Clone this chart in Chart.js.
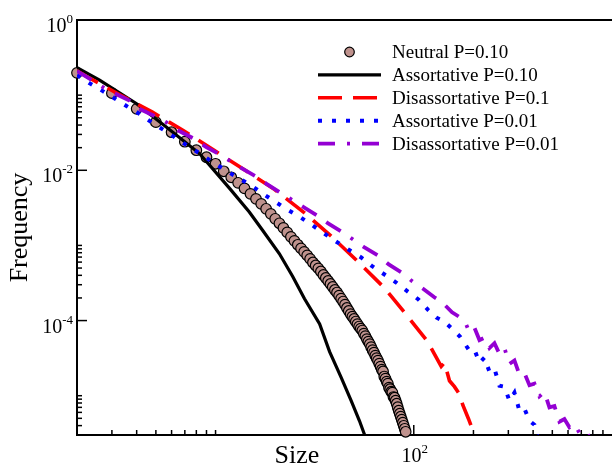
<!DOCTYPE html>
<html><head><meta charset="utf-8">
<script src="https://cdn.jsdelivr.net/npm/chart.js@4.4.1/dist/chart.umd.min.js"></script>
<style>html,body{margin:0;padding:0;background:#fff;overflow:hidden}</style>
</head><body>
<canvas id="c" width="612" height="466"></canvas>
<script>
// ---------- data ----------
const seriesLabels = ['Neutral P=0.10','Assortative P=0.10','Disassortative P=0.1','Assortative P=0.01','Disassortative P=0.01'];

const neutralX = [2,3,4,5,6,7,8,9,10,11,12,13,14,15,16,17,18,19,20,21,22,23,24,25,26,27,28,29,30,31,32,33,34,35,36,37,38,39,40,41,42,43,44,45,46,47,48,49,50,51,52,53,54,55,56,57,58,59,60,61,62,63,64,65,66,67,68,69,70,71,72,73,74,75,76,77,78,79,80,81,82,83,84,85,86,87,88,89,90,91];
const neutralY = [0.198,0.1063,0.0657,0.0437,0.0321,0.0240,0.0185,0.0149,0.0122,0.00970,
 0.00807,0.00681,0.00575,0.00486,0.00417,0.00357,0.00307,0.00263,0.00226,0.00197,
 0.00171,0.00149,0.00130,0.00115,0.00102,9.12e-4,8.19e-4,7.36e-4,6.61e-4,5.93e-4,
 5.41e-4,4.94e-4,4.50e-4,4.04e-4,3.69e-4,3.36e-4,3.07e-4,2.80e-4,2.55e-4,2.36e-4,
 2.15e-4,1.96e-4,1.79e-4,1.63e-4,1.47e-4,1.34e-4,1.22e-4,1.13e-4,1.05e-4,9.70e-5,
 8.98e-5,8.32e-5,7.82e-5,7.36e-5,6.71e-5,6.21e-5,5.67e-5,5.25e-5,4.86e-5,4.43e-5,
 4.04e-5,3.74e-5,3.41e-5,3.16e-5,2.93e-5,2.67e-5,2.44e-5,2.22e-5,2.10e-5,1.80e-5,
 1.69e-5,1.54e-5,1.45e-5,1.28e-5,1.22e-5,1.13e-5,1.10e-5,9.60e-6,9.40e-6,8.58e-6,
 7.82e-6,7.03e-6,6.31e-6,5.75e-6,5.25e-6,4.79e-6,4.37e-6,3.98e-6,3.63e-6,3.31e-6];

const assort010X = [2,2.6,3.98,5.64,8.3,11.8,14.8,17.3,21.0,24.5,28.1,33.5,37.6,43.0,48.3,53.2,56.4];
const assort010Y = [0.233,0.158,0.0775,0.0378,0.0167,0.0057,0.00278,0.00158,7.74e-4,3.86e-4,1.95e-4,9.0e-5,3.86e-5,1.75e-5,8.6e-6,4.64e-6,3.05e-6];

const disass010X = [2,2.26,3.31,4.78,6.84,9.88,14.3,19.6,28.1,38.3,52.6,71.2,91.6,116.6,137.5,142.8,151.4,160.4,170,176.7,188.7,202.4];
const disass010Y = [0.211,0.1743,0.1,0.0599,0.0341,0.0183,0.00976,0.0057,0.00271,0.00133,5.99e-4,2.71e-4,1.20e-4,5.41e-5,2.45e-5,2.75e-5,1.58e-5,1.32e-5,1.05e-5,7.54e-6,4.94e-6,3.05e-6];

const assort001X = [2,2.32,2.70,3.10,3.61,4.14,4.74,5.53,6.36,7.31,8.47,9.77,11.27,12.96,15.1,17.3,20.1,23.1,26.7,30.8,35.5,40.7,47.0,54.3,61.9,71.2,81.5,93.3,105.6,117.7,129.7,142.8,157.3,171,190.9,202.4,214.5,227.3,240.8,255.3,270.5,286.7,303.8,322.0,341.2,361.6,383.3,406.2,420.5];
const assort001Y = [0.1848,0.1432,0.1131,0.0904,0.0698,0.0561,0.0437,0.0338,0.0265,0.0207,0.01634,0.01259,0.0100,0.00794,0.00631,0.00489,0.00378,0.00299,0.00238,0.00185,0.00143,0.00112,8.76e-4,6.92e-4,5.25e-4,4.10e-4,3.21e-4,2.43e-4,1.91e-4,1.40e-4,1.10e-4,9.70e-5,7.59e-5,6.12e-5,3.98e-5,4.10e-5,2.75e-5,3.21e-5,2.09e-5,2.29e-5,1.36e-5,1.32e-5,8.58e-6,1.10e-5,6.31e-6,6.71e-6,4.64e-6,4.10e-6,2.84e-6];

const disass001X = [2,2.45,2.70,2.98,3.68,4.09,5.22,5.75,6.45,7.84,8.98,10.9,11.9,13.2,15.9,18.0,21.4,24.2,27.8,32.5,36.8,43.7,49.6,56.4,67.1,74.8,88.0,98.5,111,127,139,156,167,
 180.2,190.9,202.4,214.5,227.3,240.8,255.3,270.5,286.7,303.8,322.0,341.2,361.6,383.3,406.2,430.4,456.1,483.4,512.3,542.9,575.4,609.8,646.2,684.8,725.7,769.1];
const disass001Y = [0.209,0.1504,0.1278,0.1107,0.0845,0.0665,0.0489,0.0423,0.0341,0.0261,0.0203,0.01537,0.01318,0.01107,0.00832,0.00665,0.00498,0.00407,0.00324,0.00251,0.00198,0.00150,0.00119,9.40e-4,7.13e-4,5.58e-4,4.27e-4,3.31e-4,2.67e-4,2.04e-4,1.75e-4,1.29e-4,1.15e-4,
 1.0e-4,7.0e-5,8.0e-5,5.5e-5,5.9e-5,4.3e-5,5.0e-5,3.6e-5,4.3e-5,2.65e-5,2.95e-5,1.9e-5,2.0e-5,1.38e-5,1.45e-5,9.8e-6,1.12e-5,7.0e-6,7.3e-6,4.5e-6,4.9e-6,3.8e-6,4.2e-6,3.2e-6,3.5e-6,2.84e-6];

const xMajorTicks = [100];
const xTickBase = ['10'];
const xTickExp = ['2'];
const xMinorTicks = [3,4,5,6,7,8,9,10,200,300,400,500,600,700,800,900];
const yMajorTicks = [1,1e-2,1e-4];
const yTickBase = ['10','10','10'];
const yTickExp = ['0','-2','-4'];
const yMinorTicks = [0.1,0.09,0.08,0.07,0.06,0.05,0.04,0.03,0.02,
  1e-3,9e-4,8e-4,7e-4,6e-4,5e-4,4e-4,3e-4,2e-4,
  1e-5,9e-6,8e-6,7e-6,6e-6,5e-6,4e-6];
const xTitle = 'Size';
const yTitle = 'Frequency';

// ---------- rendering ----------
const FONT = "'Liberation Serif','Times New Roman',serif";
Chart.defaults.font.family = FONT;
Chart.defaults.color = '#000';

const pts = (xs, ys) => xs.map((v, i) => ({x: v, y: ys[i]}));

const LEG = {x0: 318, x1: 381, tx: 392, top: 52, step: 22.9};

function powerLabel(ctx, base, exp, x, baseY, align) {
  ctx.font = '20px ' + FONT;
  const wb = ctx.measureText(base).width;
  ctx.font = '13px ' + FONT;
  const we = ctx.measureText(exp).width;
  const total = wb + we;
  const left = align === 'right' ? x - total : x - total / 2;
  ctx.textAlign = 'left'; ctx.textBaseline = 'alphabetic'; ctx.fillStyle = '#000';
  ctx.font = '20px ' + FONT;
  ctx.fillText(base, left, baseY);
  ctx.font = '13px ' + FONT;
  ctx.fillText(exp, left + wb, baseY - 9);
}

const decor = {
  id: 'decor',
  beforeDatasetsDraw(chart) {
    const {ctx, chartArea: a, scales: {x, y}} = chart;
    ctx.save();
    ctx.strokeStyle = '#000';
    ctx.lineWidth = 2;
    ctx.beginPath(); ctx.moveTo(a.left - 1, a.top); ctx.lineTo(a.right, a.top); ctx.stroke();
    ctx.lineWidth = 1.5;
    const seg = (x1, y1, x2, y2) => { ctx.beginPath(); ctx.moveTo(x1, y1); ctx.lineTo(x2, y2); ctx.stroke(); };
    xMajorTicks.forEach(v => { const p = x.getPixelForValue(v); seg(p, a.bottom, p, a.bottom - 10); });
    xMinorTicks.forEach(v => { const p = x.getPixelForValue(v); seg(p, a.bottom, p, a.bottom - 5); });
    yMajorTicks.forEach(v => { const p = y.getPixelForValue(v); seg(a.left, p, a.left + 10, p); });
    yMinorTicks.forEach(v => { const p = y.getPixelForValue(v); seg(a.left, p, a.left + 5, p); });
    xMajorTicks.forEach((v, i) => powerLabel(ctx, xTickBase[i], xTickExp[i], x.getPixelForValue(v) + 1, a.bottom + 27, 'center'));
    yMajorTicks.forEach((v, i) => powerLabel(ctx, yTickBase[i], yTickExp[i], a.left - 4, y.getPixelForValue(v) + 12, 'right'));
    ctx.restore();
  },
  afterDatasetsDraw(chart) {
    const ctx = chart.ctx;
    ctx.save();
    chart.data.datasets.forEach((ds, i) => {
      const yy = LEG.top + i * LEG.step;
      if (ds.showLine === false) {
        ctx.beginPath();
        ctx.arc((LEG.x0 + LEG.x1) / 2, yy, 4.8, 0, Math.PI * 2);
        ctx.fillStyle = ds.pointBackgroundColor; ctx.fill();
        ctx.lineWidth = ds.pointBorderWidth; ctx.strokeStyle = ds.pointBorderColor; ctx.stroke();
      } else {
        ctx.beginPath();
        ctx.setLineDash(ds.borderDash || []);
        ctx.lineWidth = ds.borderWidth; ctx.strokeStyle = ds.borderColor;
        ctx.moveTo(LEG.x0, yy); ctx.lineTo(LEG.x1, yy); ctx.stroke();
        ctx.setLineDash([]);
      }
      ctx.font = '19px ' + FONT;
      ctx.textAlign = 'left'; ctx.textBaseline = 'middle'; ctx.fillStyle = '#000';
      ctx.fillText(ds.label, LEG.tx, yy + 1);
    });
    ctx.restore();
  },
  afterDraw(chart) {
    const ctx = chart.ctx;
    ctx.save();
    ctx.font = '26px ' + FONT;
    ctx.fillStyle = '#000'; ctx.textAlign = 'center'; ctx.textBaseline = 'alphabetic';
    ctx.fillText(xTitle, 297, 463);
    ctx.restore();
  }
};

new Chart(document.getElementById('c'), {
  type: 'scatter',
  data: {
    datasets: [
      {label: seriesLabels[0], data: pts(neutralX, neutralY), showLine: false,
       pointRadius: 5.3, pointBackgroundColor: '#bf928d', pointBorderColor: '#000', pointBorderWidth: 1.2,
       clip: false, order: 5},
      {label: seriesLabels[1], data: pts(assort010X, assort010Y), showLine: true, pointRadius: 0,
       borderColor: '#000', borderWidth: 3.2, borderDash: [], order: 4},
      {label: seriesLabels[2], data: pts(disass010X, disass010Y), showLine: true, pointRadius: 0,
       borderColor: '#ff0000', borderWidth: 3.6, borderDash: [24, 11], order: 3},
      {label: seriesLabels[3], data: pts(assort001X, assort001Y), showLine: true, pointRadius: 0,
       borderColor: '#0000ff', borderWidth: 4, borderDash: [4, 10], order: 2},
      {label: seriesLabels[4], data: pts(disass001X, disass001Y), showLine: true, pointRadius: 0,
       borderColor: '#9400d3', borderWidth: 3.8, borderDash: [17, 12, 3, 12, 17, 12], order: 1}
    ]
  },
  options: {
    responsive: false,
    animation: false,
    devicePixelRatio: 1,
    layout: {autoPadding: false, padding: {top: 20, right: 0, left: 0, bottom: 0}},
    plugins: {legend: {display: false}, tooltip: {enabled: false}},
    elements: {line: {tension: 0}},
    scales: {
      x: {
        type: 'logarithmic', position: 'bottom', min: 2, max: 1000,
        grid: {display: false},
        border: {display: true, color: '#000', width: 2},
        afterBuildTicks: s => { s.ticks = xMajorTicks.map(v => ({value: v})); },
        ticks: {display: false},
        afterFit: s => { s.height = 31; }
      },
      y: {
        type: 'logarithmic', position: 'left', min: 3e-6, max: 1,
        grid: {display: false},
        border: {display: true, color: '#000', width: 2},
        afterBuildTicks: s => { s.ticks = yMajorTicks.map(v => ({value: v})); },
        ticks: {display: false},
        title: {display: true, text: yTitle, font: {size: 26}, color: '#000', padding: {top: 5, bottom: 0}},
        afterFit: s => { s.width = 77; }
      }
    }
  },
  plugins: [decor]
});
</script>
</body></html>
